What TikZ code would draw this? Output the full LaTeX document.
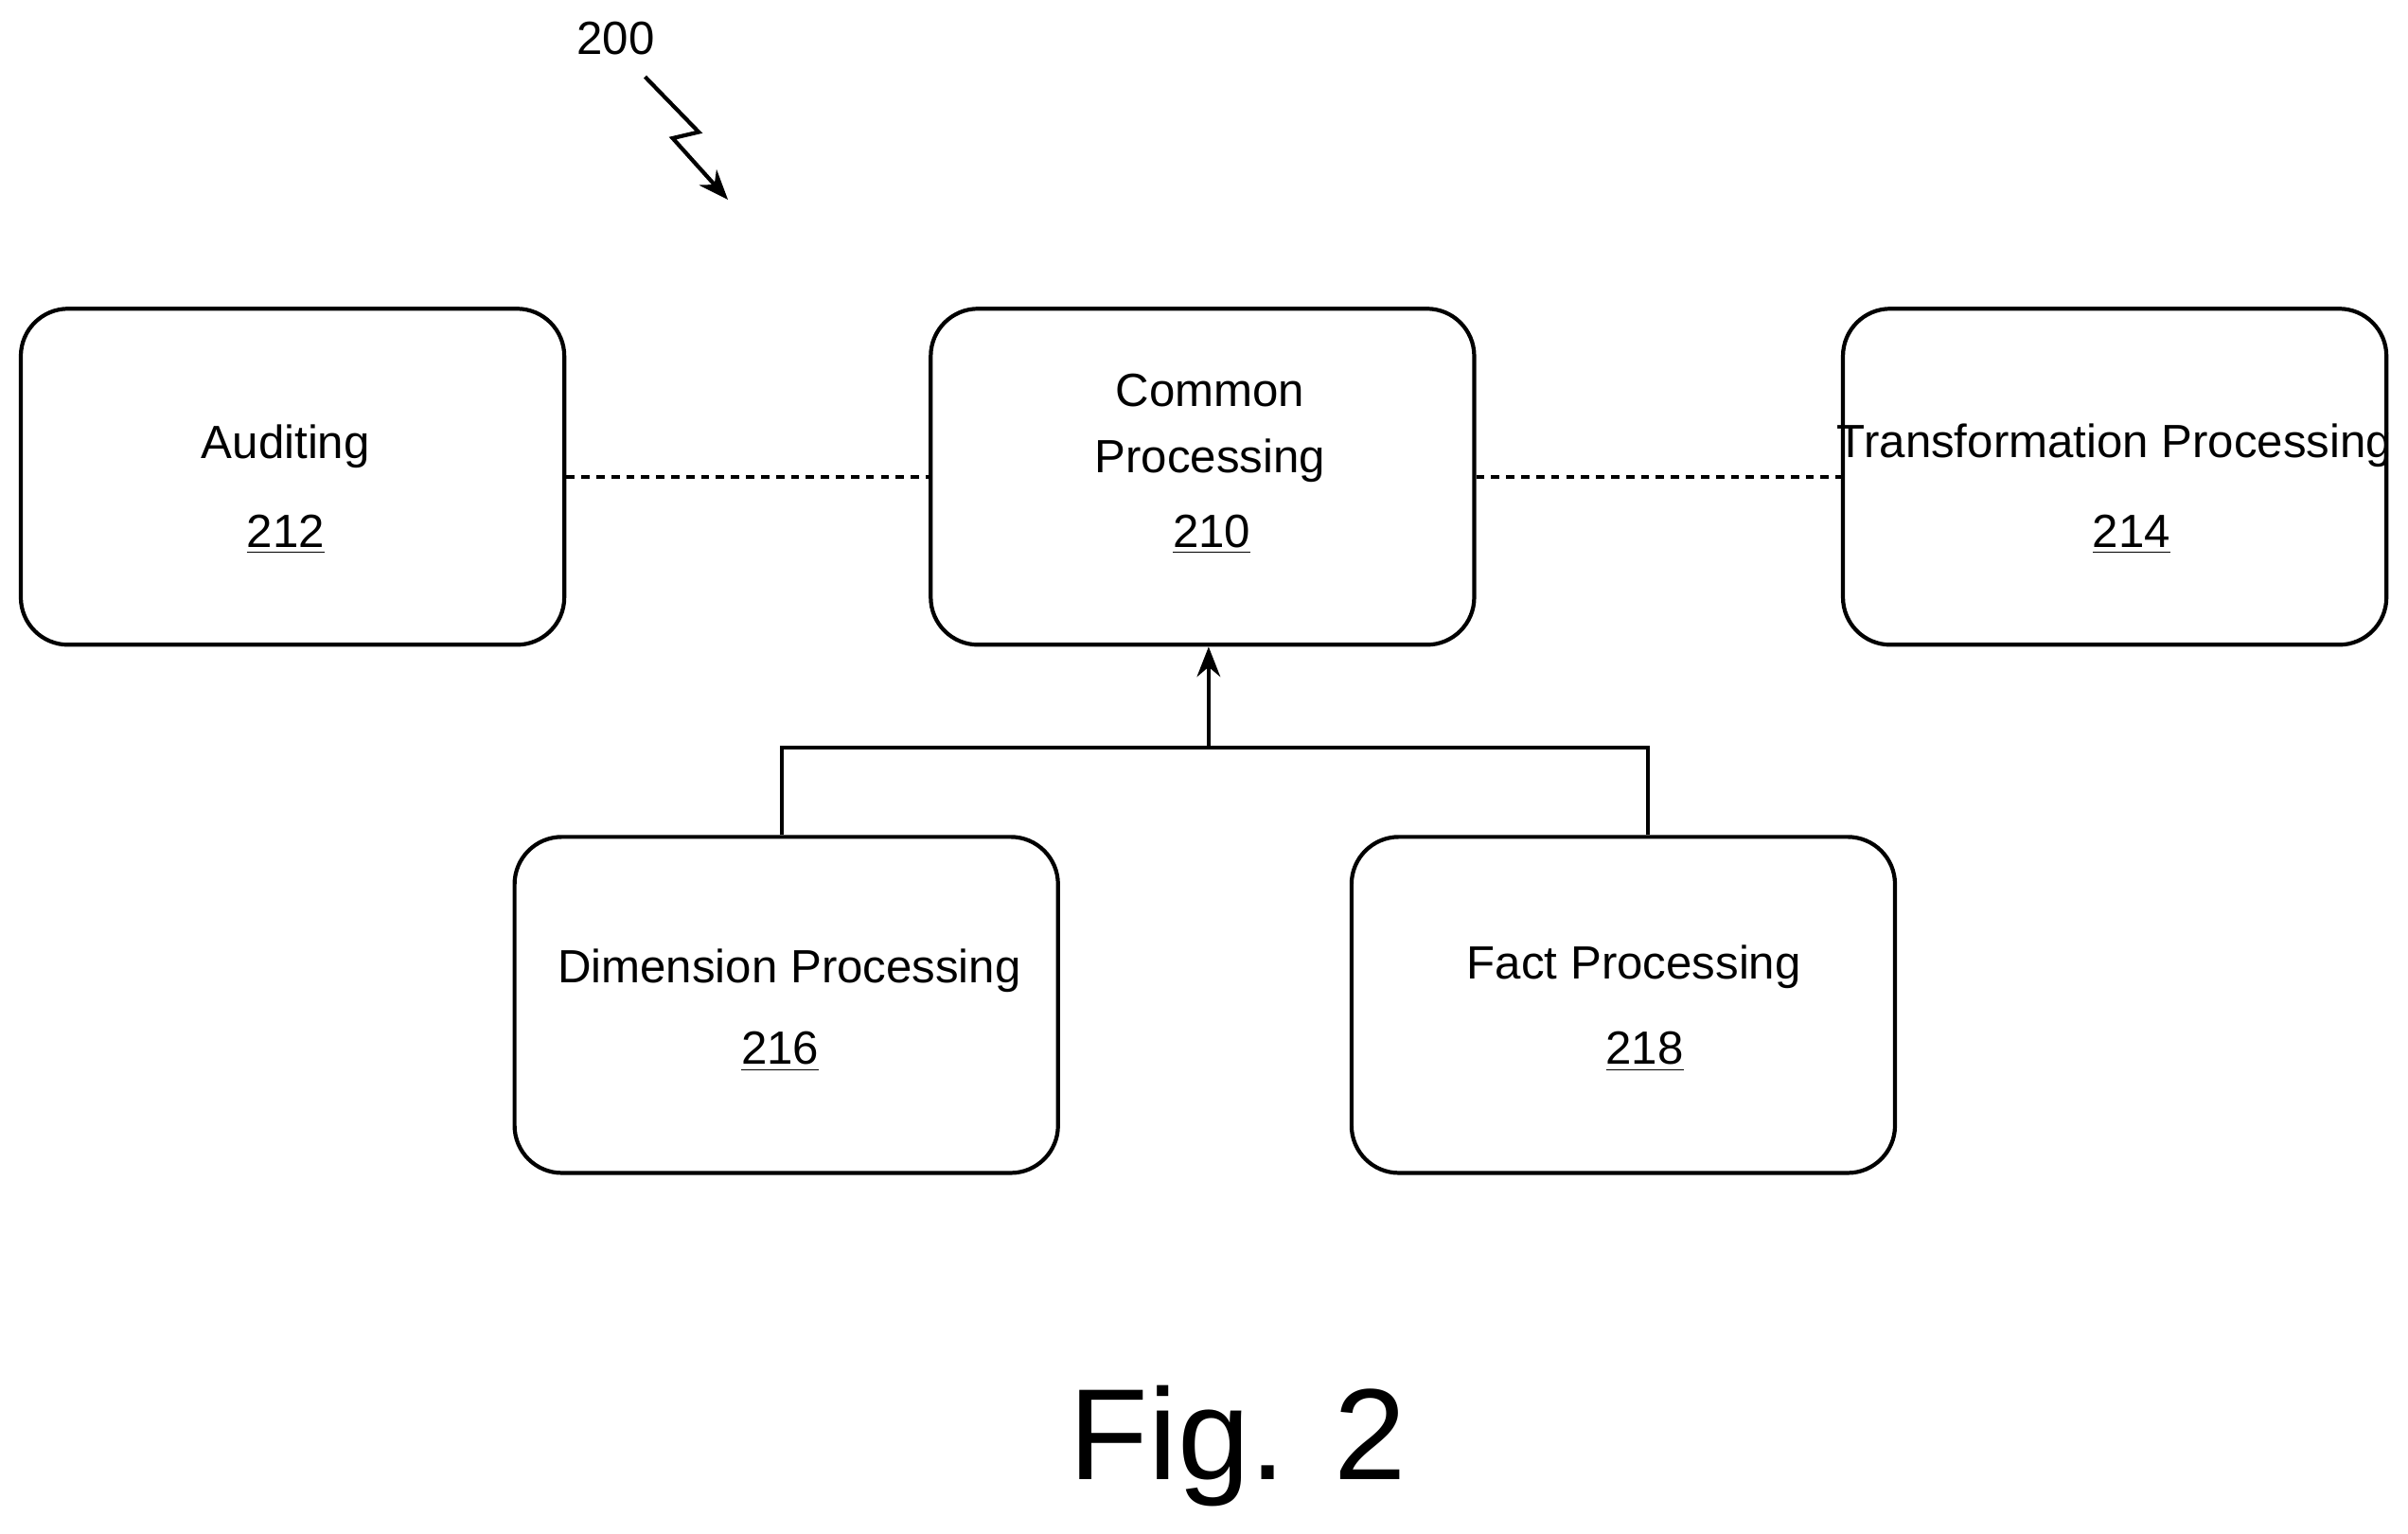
\documentclass[tikz,border=0pt]{standalone}
\usepackage{fontspec}
\setmainfont{Liberation Sans}
\usetikzlibrary{arrows.meta}
\tikzset{
  blk/.style={draw, line width=1.2pt, rounded corners=0.5cm, minimum width=5.74cm, minimum height=3.55cm},
  txt/.style={font=\fontsize{14}{16}\selectfont, inner sep=0pt},
  lnk/.style={line width=1pt, dash pattern=on 2.5pt off 2pt},
}
\begin{document}
\begin{tikzpicture}[x=0.016224cm,y=-0.016224cm]
\useasboundingbox (0,0) rectangle (1568,999);

%boxes
\node[blk] (aud) at (190.5,310.5) {};
\node[blk] (com) at (783,310.5) {};
\node[blk] (trf) at (1377,310.5) {};
\node[blk] (dim) at (512,654.5) {};
\node[blk] (fct) at (1057,654.5) {};

%texts
\node[txt] (audt) at (186,291) {Auditing};
\node[txt] (audn) at (186,348) {\underline{212}};
\node[txt, align=center] (comt) at (788,279) {Common\\[4pt]Processing};
\node[txt] (comn) at (789,348) {\underline{210}};
\node[txt] (trft) at (1377,290) {Transformation Processing};
\node[txt] (trfn) at (1388,348) {\underline{214}};
\node[txt] (dimt) at (514,632) {Dimension Processing};
\node[txt] (dimn) at (508,685) {\underline{216}};
\node[txt] (fctt) at (1064,630) {Fact Processing};
\node[txt] (fctn) at (1071,685) {\underline{218}};

%links
\draw[lnk] (aud.east) -- (com.west);
\draw[lnk] (com.east) -- (trf.west);
\coordinate (j) at (787,487);
\draw[line width=1.2pt] (dim.north -| 509,0) |- (j) -| (fct.north -| 1073,0);
\draw[line width=1.2pt, -{Stealth[length=9pt,width=7pt]}] (j) -- (com.south -| j);

%label
\node[txt] (ref) at (401,25) {200};
\coordinate (refs) at (420,50);
\coordinate (refe) at (474,130);
\draw[line width=1.2pt, -{Stealth[length=9pt,width=7pt]}] (refs) -- (455,86) -- (438,90) -- (refe);

\node[font=\fontsize{39}{44}\selectfont, inner sep=0pt] (fig) at (806,942) {Fig. 2};
\end{tikzpicture}
\end{document}
